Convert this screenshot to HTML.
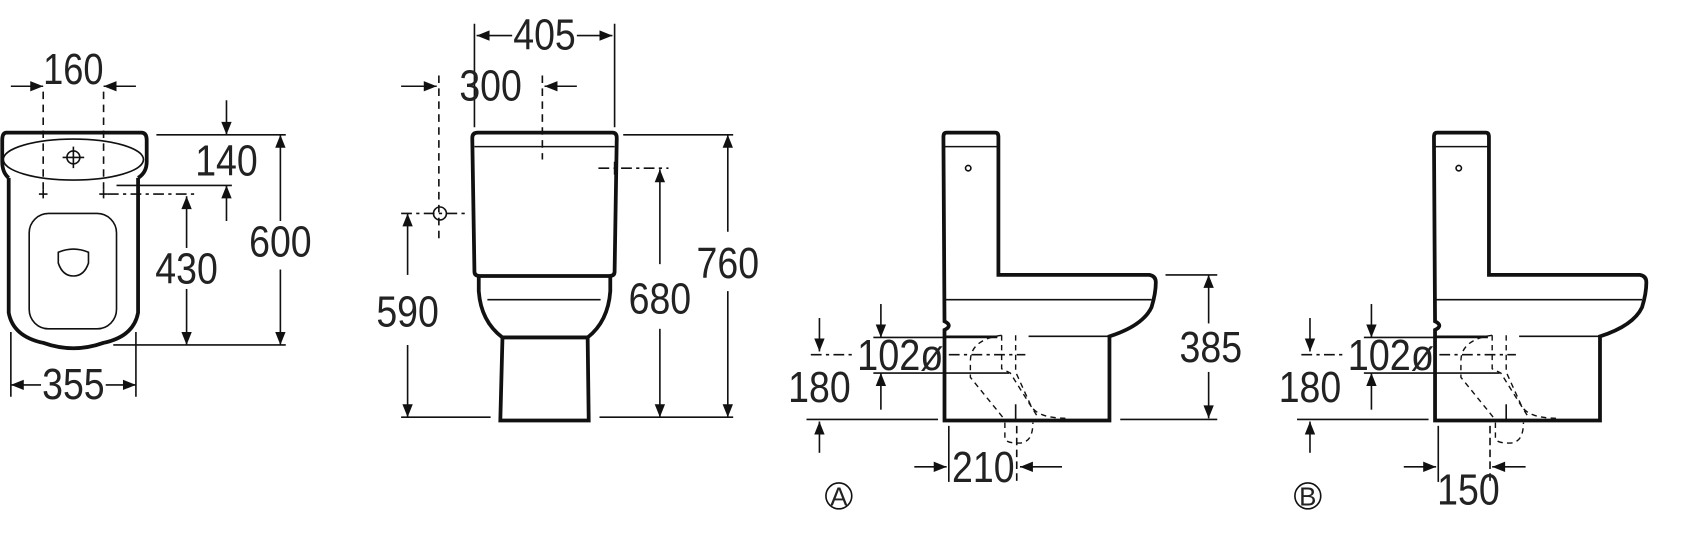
<!DOCTYPE html>
<html><head><meta charset="utf-8"><style>
html,body{margin:0;padding:0;background:#fff;width:1682px;height:559px;overflow:hidden}
svg{display:block}
text{font-family:"Liberation Sans",sans-serif;font-size:40px;fill:#222;text-anchor:middle}
</style></head><body>
<svg width="1682" height="559" viewBox="0 0 1560 518.5" xmlns="http://www.w3.org/2000/svg">
<defs>
<marker id="a" viewBox="0 0 10 10" refX="10" refY="5" markerWidth="14" markerHeight="12" markerUnits="userSpaceOnUse" orient="auto"><path d="M0,1 L10,5 L0,9z" fill="#111"/></marker>
</defs>
<g fill="none" stroke="#111" stroke-width="1.5">
<path d="M8,165 L8,290 Q12,312 40,318 Q68,328 96,318 Q124,312 128,290 L128,165" stroke-width="3.5"/>
<path d="M6,123 L131,123 Q136,123 136,130 L136,150 Q136,160 128,165 M8,165 Q2,160 2,150 L2,130 Q2,123 6,123" stroke-width="3.5"/>
<ellipse cx="68" cy="148" rx="65" ry="19"/>
<rect x="27" y="198" width="81" height="107" rx="18"/>
<path d="M54,234 Q68,228 82,234 L82,244 Q78,256 68,256 Q58,256 54,244z"/>
<circle cx="68" cy="146" r="6"/><path d="M68,136 V156 M58,146 H78"/>
<path d="M40,176 V184 M36,180 H44 M96,176 V184 M92,180 H100"/>
<path d="M40,85 V180 M96,85 V180" stroke-dasharray="7,5"/>
<path d="M100,180 H180" stroke-dasharray="10,4,3,4"/>
<path d="M145,125 H265 M108,172 H215 M105,320 H265 M10,308 V368 M126,308 V368"/>
<path d="M440,22 V118 M570,22 V118"/>
<path d="M407,70 V222 M503,70 V148" stroke-dasharray="7,5"/>
<path d="M443,123 H568 Q572,123 572,128 L570,252 Q570,256 565,256 H445 Q440,256 440,252 L438,128 Q438,123 443,123z" stroke-width="3.5"/>
<path d="M440,136 H570"/>
<path d="M444,256 L444,270 Q446,298 466,313 M566,256 L566,270 Q564,298 545,313" stroke-width="3.5"/>
<path d="M452,278 H557"/>
<path d="M466,313 L464,390 H546 L545,313z" stroke-width="3.5"/>
<path d="M555,156 H620" stroke-dasharray="10,4,3,4"/><path d="M570,150 V162"/>
<circle cx="408" cy="198" r="6"/><path d="M372,198 H432" stroke-dasharray="10,4,3,4"/>
<path d="M372,387 H455 M556,387 H680 M578,125 H680"/>
</g>
<g id="side" fill="none" stroke="#111" stroke-width="1.5">
<path d="M878,123 L923,123 Q926,123 926,127 L926,255 L1066,255 Q1072,256 1072,262 Q1072,272 1068,285 Q1060,302 1029,312 L1029,390 L876,390 L876,306 Q884,302 876,298 L875,127 Q875,123 878,123z" stroke-width="3.5"/>
<path d="M876,136 H926 M876,278 H1068"/>
<circle cx="898" cy="156" r="2.5"/>
<path d="M954,312 H1029"/>
<path d="M876,312 H925"/>
<path d="M929,311 Q900,315 900,335 L900,350 L930,387 M929,311 V342 L937,346 L962,386 M942,311 V345 L956,376 Q962,388 990,388 M932,392 L932,406 Q932,411 945,411 Q958,411 958,392" stroke-dasharray="5,4" stroke-width="1.3"/>
<path d="M942,375 V390"/>
</g>
<g fill="none" stroke="#111" stroke-width="1.5">
<path d="M1081,255 H1129 M1039,389 H1129"/>
<path d="M810,313 H925 M810,346 H936 M748,389 H870"/>
<path d="M752,329 H790 M880,329 H951" stroke-dasharray="10,4,3,4"/>
<path d="M880,395 V447"/><path d="M943,395 V447" stroke-dasharray="7,4"/>
<circle cx="778" cy="460" r="12"/>
<path d="M1265,313 H1380 M1265,346 H1391 M1203,389 H1325"/>
<path d="M1207,329 H1245 M1335,329 H1406" stroke-dasharray="10,4,3,4"/>
<path d="M1334,395 V447"/><path d="M1382,395 V447" stroke-dasharray="7,4"/>
<circle cx="1213" cy="460" r="12"/>
</g>
<g fill="none" stroke="#111" stroke-width="1.5" marker-end="url(#a)">
<path d="M10,80 H40"/><path d="M126,80 H96"/>
<path d="M210,93 V125"/><path d="M210,205 V172"/>
<path d="M173,230 V182"/><path d="M173,268 V320"/>
<path d="M260,205 V125"/><path d="M260,250 V320"/>
<path d="M38,357 H10"/><path d="M98,357 H126"/>
<path d="M475,33 H442"/><path d="M535,33 H568"/>
<path d="M372,80 H405"/><path d="M535,80 H505"/>
<path d="M378,255 V198"/><path d="M378,320 V387"/>
<path d="M612,245 V157"/><path d="M612,305 V387"/>
<path d="M675,215 V125"/><path d="M675,270 V387"/>
<path d="M1121,300 V255"/><path d="M1121,345 V388"/>
<path d="M817,282 V313"/><path d="M817,380 V346"/>
<path d="M760,295 V326"/><path d="M760,420 V391"/>
<path d="M848,433 H878"/><path d="M985,433 H946"/>
<path d="M1272,282 V313"/><path d="M1272,380 V346"/>
<path d="M1215,295 V326"/><path d="M1215,420 V391"/>
<path d="M1302,433 H1332"/><path d="M1415,433 H1384"/>
</g>
<use href="#side" x="455"/>
<g>
<text x="68" y="78" textLength="56" lengthAdjust="spacingAndGlyphs">160</text>
<text x="210" y="163" textLength="58" lengthAdjust="spacingAndGlyphs">140</text>
<text x="173" y="263" textLength="58" lengthAdjust="spacingAndGlyphs">430</text>
<text x="260" y="238" textLength="58" lengthAdjust="spacingAndGlyphs">600</text>
<text x="68" y="370" textLength="58" lengthAdjust="spacingAndGlyphs">355</text>
<text x="505" y="46" textLength="58" lengthAdjust="spacingAndGlyphs">405</text>
<text x="455" y="93" textLength="58" lengthAdjust="spacingAndGlyphs">300</text>
<text x="378" y="303" textLength="58" lengthAdjust="spacingAndGlyphs">590</text>
<text x="612" y="291" textLength="58" lengthAdjust="spacingAndGlyphs">680</text>
<text x="675" y="258" textLength="58" lengthAdjust="spacingAndGlyphs">760</text>
<text x="1123" y="336" textLength="58" lengthAdjust="spacingAndGlyphs">385</text>
<text x="835" y="343" textLength="80" lengthAdjust="spacingAndGlyphs">102ø</text>
<text x="760" y="373" textLength="58" lengthAdjust="spacingAndGlyphs">180</text>
<text x="912" y="447" textLength="58" lengthAdjust="spacingAndGlyphs">210</text>
<text x="1290" y="343" textLength="80" lengthAdjust="spacingAndGlyphs">102ø</text>
<text x="1215" y="373" textLength="58" lengthAdjust="spacingAndGlyphs">180</text>
<text x="1362" y="468" textLength="58" lengthAdjust="spacingAndGlyphs">150</text>
<text x="778" y="469" style="font-size:24px">A</text>
<text x="1213" y="469" style="font-size:24px">B</text>
</g>
</svg>
</body></html>
